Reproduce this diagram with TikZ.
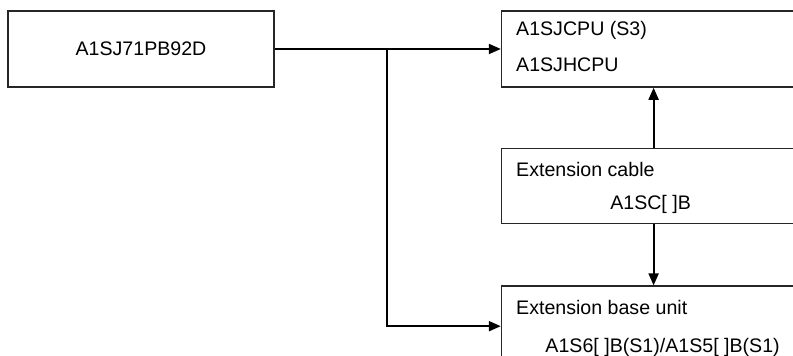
\documentclass[tikz,border=0pt]{standalone}
\usepackage{fontspec}
\setmainfont{Liberation Sans}
\usetikzlibrary{arrows.meta, positioning, calc}
\tikzset{
    base/.style={draw=black!85, line width=0.8pt, inner sep=0pt},
    unitbox/.style={base, rectangle, minimum height=38pt},
    txt/.style={font=\fontsize{9.8}{12}\selectfont, inner sep=0pt},
    line/.style={draw=black, line width=1pt, -{Triangle[length=6pt, width=5pt]}},
    plain-line/.style={draw=black, line width=1pt}
}
\begin{document}
\begin{tikzpicture}[x=0.5pt, y=0.5pt]
    \path [use as bounding box, clip] (0,0) rectangle (793,356);

    \node [unitbox, minimum width=133pt] (Module) at (141,307) {};
    \node [unitbox, minimum width=152pt, right=113pt of Module] (CPU) {};
    \node [unitbox, minimum width=152pt, minimum height=37.5pt, below=30pt of CPU] (Cable) {};
    \node [unitbox, minimum width=152pt, minimum height=40pt, below=30.5pt of Cable] (Base) {};

    \node [txt, anchor=base] (ModuleName) at ($(Module.north)+(0,-45)$) {A1SJ71PB92D};
    \node [txt, anchor=base west] (CPUa) at ($(CPU.north west)+(15,-25)$) {A1SJCPU (S3)};
    \node [txt, anchor=base west] (CPUb) at ($(CPU.north west)+(15,-61)$) {A1SJHCPU};
    \node [txt, anchor=base west] (CableA) at ($(Cable.north west)+(15,-28.5)$) {Extension cable};
    \node [txt, anchor=base] (CableB) at ($(Cable.north)+(-3,-62)$) {A1SC[ ]B};
    \node [txt, anchor=base west] (BaseA) at ($(Base.north west)+(15,-29)$) {Extension base unit};
    \node [txt, anchor=base] (BaseB) at ($(Base.north)+(9,-67)$) {A1S6[ ]B(S1)/A1S5[ ]B(S1)};

    \coordinate (Split) at (387,307);
    \draw [line] (Module.east) -- (CPU.west);
    \draw [line] (Split) |- (Base.west);
    \draw [line] (Cable.north) -- (CPU.south);
    \draw [line] (Cable.south) -- (Base.north);
\end{tikzpicture}
\end{document}
